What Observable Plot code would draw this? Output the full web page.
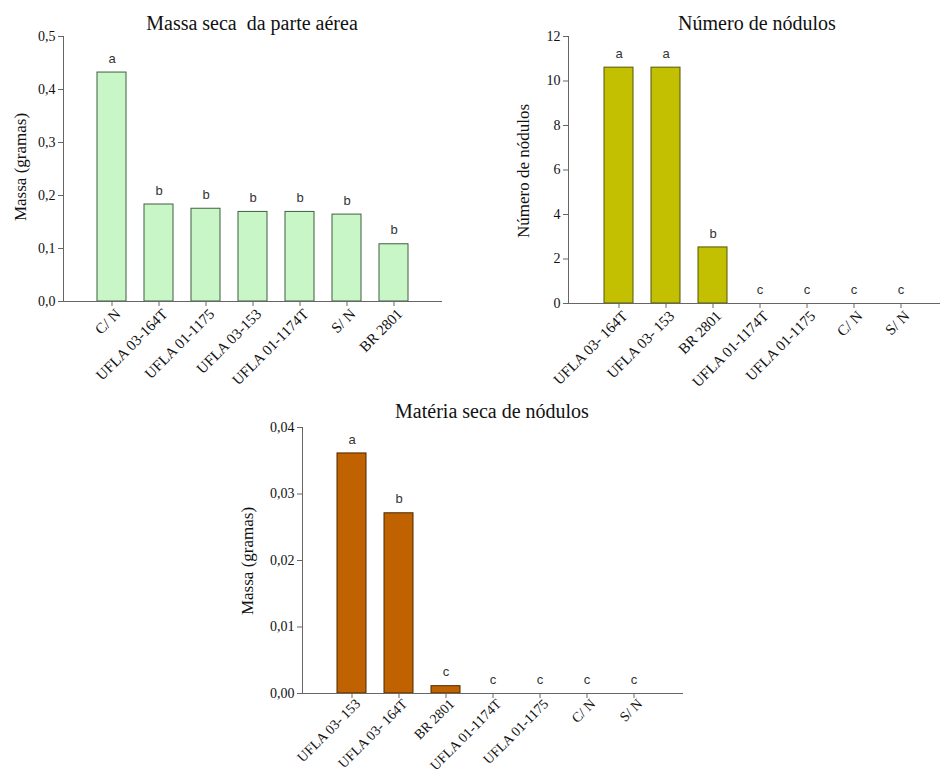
<!DOCTYPE html>
<html>
<head>
<meta charset="utf-8">
<script src="https://cdn.jsdelivr.net/npm/d3@7"></script>
<script src="https://cdn.jsdelivr.net/npm/@observablehq/plot@0.6"></script>
<style>
  html, body { margin: 0; padding: 0; background: #fff; overflow: hidden; }
  #wrap { position: relative; width: 940px; height: 778px; overflow: hidden; }
  .panel { position: absolute; }
  .title { position: absolute; font-family: "Liberation Serif", serif; font-size: 20px; color: #111; white-space: nowrap; transform: translateX(-50%); line-height: 1; }
  .ylab { position: absolute; font-family: "Liberation Serif", serif; font-size: 17px; color: #111; white-space: nowrap; line-height: 1; transform: translate(-50%, -50%) rotate(-90deg); }
</style>
</head>
<body>
<div id="wrap"></div>
<script>
// Panel 1: Massa seca da parte aérea
const cats1 = ["C/ N", "UFLA 03-164T", "UFLA 01-1175", "UFLA 03-153", "UFLA 01-1174T", "S/ N", "BR 2801"];
const vals1 = [0.432, 0.183, 0.175, 0.169, 0.169, 0.164, 0.108];
const letters1 = ["a", "b", "b", "b", "b", "b", "b"];
const ticks1 = [0, 0.1, 0.2, 0.3, 0.4, 0.5];

// Panel 2: Número de nódulos
const cats2 = ["UFLA 03- 164T", "UFLA 03- 153", "BR 2801", "UFLA 01-1174T", "UFLA 01-1175", "C/ N", "S/ N"];
const vals2 = [10.6, 10.6, 2.52, 0, 0, 0, 0];
const letters2 = ["a", "a", "b", "c", "c", "c", "c"];
const ticks2 = [0, 2, 4, 6, 8, 10, 12];

// Panel 3: Matéria seca de nódulos
const cats3 = ["UFLA 03- 153", "UFLA 03- 164T", "BR 2801", "UFLA 01-1174T", "UFLA 01-1175", "C/ N", "S/ N"];
const vals3 = [0.0361, 0.0271, 0.0011, 0, 0, 0, 0];
const letters3 = ["a", "b", "c", "c", "c", "c", "c"];
const ticks3 = [0, 0.01, 0.02, 0.03, 0.04];

function panel(o) {
  const data = o.cats.map((c, i) => ({c, v: o.vals[i], l: o.letters[i]}));
  return Plot.plot({
    width: o.width, height: o.height,
    marginTop: o.mt, marginBottom: o.mb, marginLeft: o.ml, marginRight: o.mr,
    style: {fontFamily: "Liberation Serif", fontSize: "14px", color: "#111", background: "transparent", overflow: "visible"},
    x: {domain: o.cats, paddingInner: 0.385, paddingOuter: 0.71},
    y: {domain: [o.ticks[0], o.ticks[o.ticks.length - 1]]},
    marks: [
      Plot.barY(data, {x: "c", y: "v", fill: o.fill, stroke: o.stroke, strokeWidth: 1}),
      Plot.text(data, {x: "c", y: "v", text: "l", dy: -14, fontFamily: "Liberation Sans", fontSize: 13, fill: "#333"}),
      Plot.axisX({text: null, tickSize: 5, label: null, stroke: "#666"}),
      Plot.axisX({tickRotate: -45, tickSize: 0, tickPadding: o.xPad + 5, dx: 6, label: null, fill: "#111", fontSize: o.xFont}),
      Plot.axisY({ticks: o.ticks, tickFormat: o.fmt, tickSize: 5, tickPadding: 3, stroke: "#666", fill: "#111", fontSize: 14, label: null}),
      Plot.ruleY([0], {stroke: "#666"}),
      Plot.frame({anchor: "left", stroke: "#666"})
    ]
  });
}

const wrap = document.getElementById("wrap");
function place(node, left, top) {
  node.classList.add("panel");
  node.style.left = left + "px";
  node.style.top = top + "px";
  wrap.appendChild(node);
}
function text(cls, t, x, y) {
  const d = document.createElement("div");
  d.className = cls;
  d.textContent = t;
  d.style.left = x + "px";
  d.style.top = y + "px";
  wrap.appendChild(d);
}

place(panel({cats: cats1, vals: vals1, letters: letters1, ticks: ticks1,
  fmt: d => d.toFixed(1).replace(".", ","), fill: "#c8f6c6", stroke: "#3f5f3f", xFont: 15, xPad: 5,
  width: 470, height: 390, mt: 36, mb: 89, ml: 63, mr: 28}), 0, 0);

place(panel({cats: cats2, vals: vals2, letters: letters2, ticks: ticks2,
  fmt: d => String(d), fill: "#c2c000", stroke: "#55550a", xFont: 15, xPad: 5,
  width: 480, height: 390, mt: 36, mb: 87, ml: 98, mr: 0}), 470, 0);

place(panel({cats: cats3, vals: vals3, letters: letters3, ticks: ticks3,
  fmt: d => d.toFixed(2).replace(".", ","), fill: "#c06200", stroke: "#4a2800", xFont: 14, xPad: 3,
  width: 480, height: 398, mt: 47, mb: 85, ml: 72, mr: 27}), 230, 380);

text("title", "Massa seca\u00a0 da parte aérea", 252, 13);
text("title", "Número de nódulos", 757, 13);
text("title", "Matéria seca de nódulos", 492, 401);

text("ylab", "Massa (gramas)", 20, 167);
text("ylab", "Número de nódulos", 523, 171);
text("ylab", "Massa (gramas)", 247, 561);
</script>
</body>
</html>
